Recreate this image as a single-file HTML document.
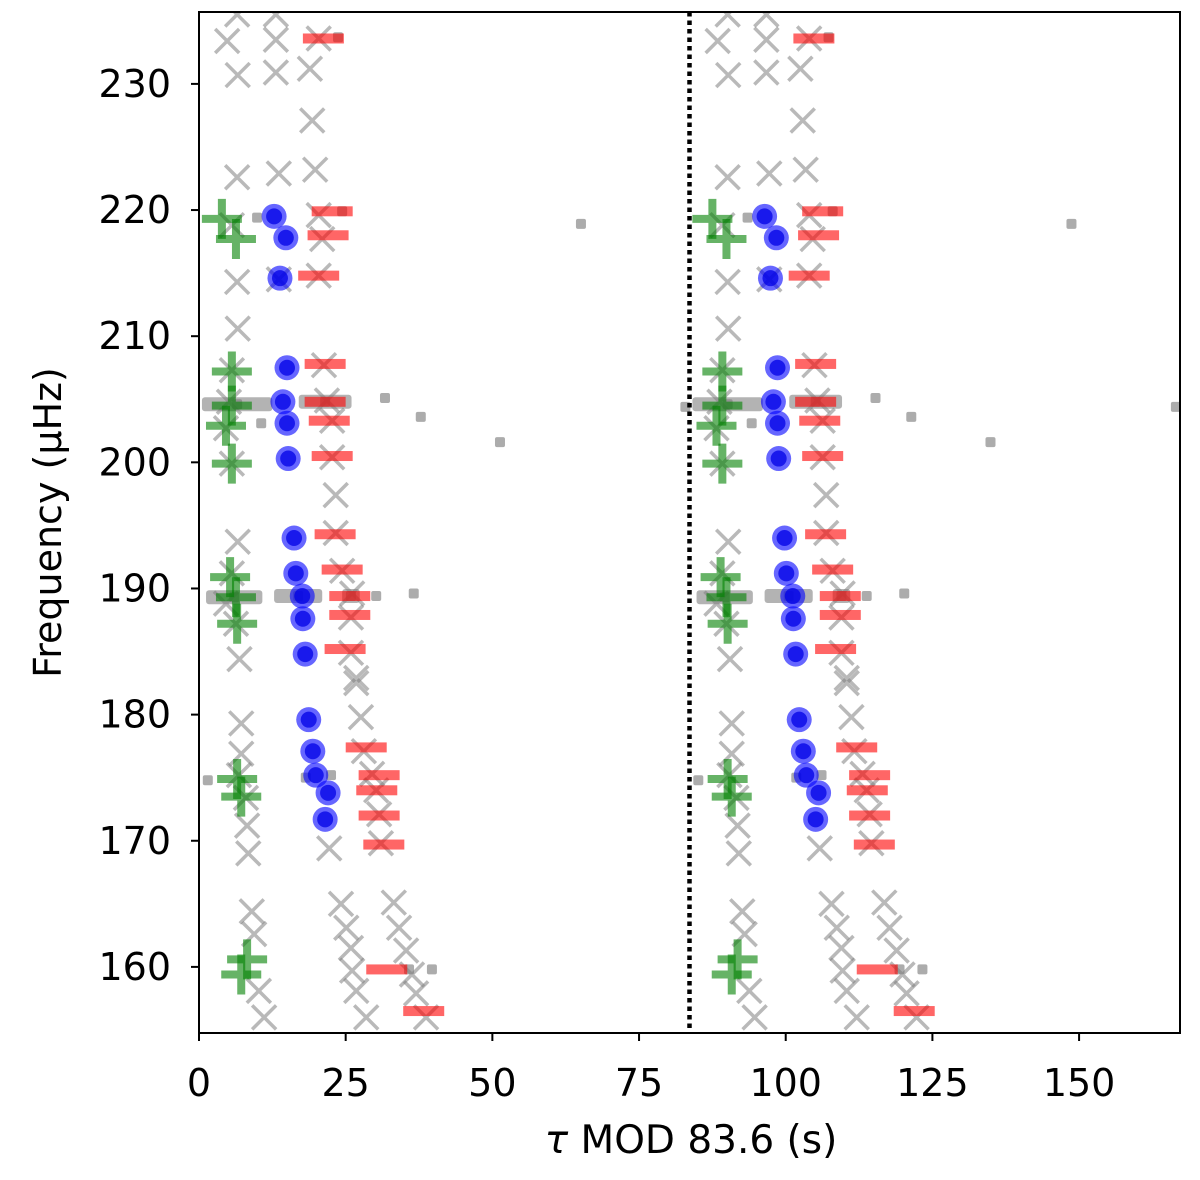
<!DOCTYPE html>
<html><head><meta charset="utf-8"><style>
html,body{margin:0;padding:0;background:#fff;}
svg{display:block;font-family:"DejaVu Sans","Liberation Sans",sans-serif;}
</style></head><body>
<svg id="chart" width="1200" height="1180" viewBox="0 0 1200 1180" xmlns="http://www.w3.org/2000/svg">
<g id="marks"></g>
<g id="axes"></g>
</svg>
<script>
// ---- data (tau mod 83.6 s, frequency μHz) ----
const period = 83.6;
const xTicks = [0, 25, 50, 75, 100, 125, 150];
const yTicks = [160, 170, 180, 190, 200, 210, 220, 230];
const crossTau = [6.5,13.1,4.8,13.1,20.4,6.6,13.1,18.9,19.3,6.5,13.6,19.8,20.4,5.6,21.0,6.5,13.6,20.4,6.6,
 5.6,21.3,21.8,22.7,5.1,4.6,22.7,5.6,23.3,6.6,23.3,24.4,26.1,25.9,5.6,4.6,6.3,6.9,25.9,26.8,
 26.8,27.6,7.2,7.2,28.1,6.8,29.5,30.2,8.0,30.7,8.2,31.0,8.4,22.2,9.0,24.2,33.2,9.4,25.1,34.1,25.9,35.3,26.1,36.3,10.2,26.8,37.0,11.1,28.5,38.7];
const crossFreq = [235.5,235.5,233.4,233.5,233.6,230.7,230.9,231.2,227.1,222.6,222.9,223.2,219.6,218.8,217.7,214.3,214.5,214.8,210.6,
 207.3,207.7,204.9,203.3,204.8,202.7,200.4,199.9,197.4,193.7,194.4,191.4,189.6,187.7,191.2,188.8,187.2,184.4,184.9,182.9,
 182.5,179.8,179.3,176.9,177.1,175.2,175.3,174.0,173.4,172.1,171.2,169.8,169.0,169.4,164.4,165.0,165.1,162.6,163.1,163.1,161.5,161.3,159.7,159.4,158.1,158.1,157.9,156.0,156.0,156.0];
const plusTau = [3.9,6.3,5.6,5.6,4.6,5.6,5.3,6.3,6.5,6.5,7.2,8.2,7.2];
const plusFreq = [219.3,217.7,207.2,204.5,202.9,199.9,190.9,189.3,187.2,174.9,173.5,160.6,159.4];
const circTau = [12.8,14.8,13.8,15.0,14.3,15.0,15.2,16.2,16.5,17.6,17.7,18.1,18.7,19.4,19.9,22.0,21.5];
const circFreq = [219.5,217.8,214.6,207.5,204.8,203.1,200.3,194.0,191.2,189.4,187.6,184.8,179.6,177.1,175.2,173.8,171.7];
const dashTau = [21.2,22.7,22.0,20.4,21.5,21.5,22.2,22.7,23.2,24.4,25.7,25.7,24.9,28.5,30.7,30.3,30.7,31.5,32.0,38.3];
const dashFreq = [233.6,219.9,218.0,214.8,207.8,204.8,203.3,200.5,194.3,191.5,189.4,187.9,185.2,177.4,175.2,174.0,172.0,169.7,159.8,156.5];
const grayTau = [23.7,9.9,24.4,65.1,31.7,37.8,51.3,10.6,82.9,6.5,21.5,6.0,16.9,25.9,30.2,36.6,1.5,18.2,22.5,35.8,39.7];
const grayFreq = [233.7,219.4,219.9,218.9,205.1,203.6,201.6,203.1,204.4,204.6,204.8,189.3,189.4,189.4,189.4,189.6,174.8,175.0,175.2,159.8,159.8];
const grayErr = [0,0,0,0,0,0,0,0,0,6.0,4.5,4.8,4.1,1.5,0,0,0,0,0,0,0];

// ---- axes ----
const L=199,R=1180,T=12,B=1033;
const xMin=0,xMax=2*period,yMin=154.76,yMax=235.7;
const sx=v=>L+(v-xMin)/(xMax-xMin)*(R-L);
const sy=v=>B-(v-yMin)/(yMax-yMin)*(B-T);
const NS="http://www.w3.org/2000/svg";
const marks=document.getElementById('marks');
const axes=document.getElementById('axes');
function mk(tag,attrs,parent){const e=document.createElementNS(NS,tag);for(const k in attrs)e.setAttribute(k,attrs[k]);parent.appendChild(e);return e;}

const clip=mk('clipPath',{id:'pc'},document.getElementById('chart'));
mk('rect',{x:L,y:T,width:R-L,height:B-T},clip);
marks.setAttribute('clip-path','url(#pc)');

const shifts=[0,period];
for(const s of shifts){for(let i=0;i<grayTau.length;i++){
  const cx=sx(grayTau[i]+s),cy=sy(grayFreq[i]);
  const g=mk('g',{},marks);
  
  
  if(grayErr[i]>0){const w=sx(grayErr[i])-sx(0);
    mk('rect',{x:cx-w,y:cy-7,width:2*w,height:14,rx:3,fill:'rgba(128,128,128,0.6)'},g);}
  mk('rect',{x:cx-5,y:cy-5,width:10,height:10,rx:2,fill:'rgba(128,128,128,0.65)'},g);
}}
for(const s of shifts){for(let i=0;i<crossTau.length;i++){
  const cx=sx(crossTau[i]+s),cy=sy(crossFreq[i]),d=12;
  const p=mk('path',{d:`M${cx-d},${cy-d}L${cx+d},${cy+d}M${cx-d},${cy+d}L${cx+d},${cy-d}`,stroke:'rgba(128,128,128,0.55)','stroke-width':3.5,fill:'none'},marks);
  
  
}}
for(const s of shifts){for(let i=0;i<dashTau.length;i++){
  const cx=sx(dashTau[i]+s),cy=sy(dashFreq[i]);
  const r=mk('rect',{x:cx-20.5,y:cy-5,width:41,height:10,fill:'rgba(255,0,0,0.6)'},marks);
  
  
}}
for(const s of shifts){for(let i=0;i<plusTau.length;i++){
  const cx=sx(plusTau[i]+s),cy=sy(plusFreq[i]);
  const p=mk('path',{d:`M${cx-20},${cy}L${cx+20},${cy}M${cx},${cy-20}L${cx},${cy+20}`,stroke:'rgba(0,128,0,0.6)','stroke-width':8,fill:'none'},marks);
  
  
}}
for(const s of shifts){for(let i=0;i<circTau.length;i++){
  const cx=sx(circTau[i]+s),cy=sy(circFreq[i]);
  const g=mk('g',{},marks);
  
  
  mk('circle',{cx:cx,cy:cy,r:12.5,fill:'rgba(0,0,255,0.6)'},g);
  mk('circle',{cx:cx,cy:cy,r:8,fill:'rgba(0,0,230,0.75)'},g);
}}
const dl=mk('line',{x1:sx(period),x2:sx(period),y1:T,y2:B,stroke:'#000','stroke-width':4.5,'stroke-dasharray':'4.5 4'},axes);


const fr=mk('rect',{x:L,y:T,width:R-L,height:B-T,fill:'none',stroke:'#000','stroke-width':2},axes);


for(const v of xTicks){const x=sx(v);
  mk('line',{x1:x,x2:x,y1:B,y2:B+8,stroke:'#000','stroke-width':2},axes);
  const t=mk('text',{x:x,y:B+63,'font-size':38,'text-anchor':'middle',fill:'#000'},axes);
  t.textContent=v;
  
  
}
for(const v of yTicks){const y=sy(v);
  mk('line',{x1:L-8,x2:L,y1:y,y2:y,stroke:'#000','stroke-width':2},axes);
  const t=mk('text',{x:L-28,y:y+13,'font-size':38,'text-anchor':'end',fill:'#000'},axes);
  t.textContent=v;
  
  
}
const xl=mk('text',{x:691,y:1153,'font-size':39,'text-anchor':'middle',fill:'#000'},axes);
xl.innerHTML='<tspan font-style="italic">τ</tspan> MOD 83.6 (s)';


const yl=mk('text',{x:0,y:0,'font-size':38,'text-anchor':'middle',fill:'#000',transform:`translate(61,${(T+B)/2}) rotate(-90)`},axes);
yl.textContent='Frequency (μHz)';


</script>
</body></html>
